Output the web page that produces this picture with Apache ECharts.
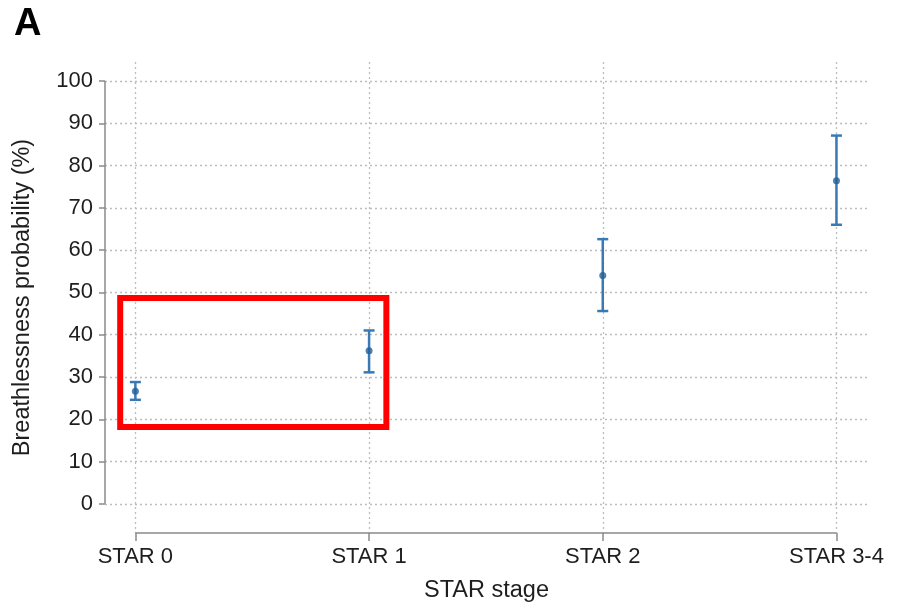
<!DOCTYPE html>
<html>
<head>
<meta charset="utf-8">
<script src="https://cdn.jsdelivr.net/npm/echarts@6/dist/echarts.min.js"></script>
<style>
  html, body { margin: 0; padding: 0; background: #ffffff; }
  #chart { width: 897px; height: 613px; }
</style>
</head>
<body>
<div id="chart"></div>
<script>
// STAR stages and modelled breathlessness probability (%) with 95% CI
const stages = ['STAR 0', 'STAR 1', 'STAR 2', 'STAR 3-4'];
const estimate = [26.6, 36.2, 54.0, 76.4];
const ciLower = [24.6, 31.1, 45.6, 66.0];
const ciUpper = [28.8, 41.0, 62.6, 87.1];
const yTicks = [0, 10, 20, 30, 40, 50, 60, 70, 80, 90, 100];
const xTicks = [0, 1, 2, 3];
// highlighted region, in data units: [stage, probability] corners
const highlightBox = [[-0.065, 48.7], [1.074, 18.2]];

const X_MIN = -0.13, X_MAX = 3.135;
const Y_MIN = -6.9, Y_MAX = 104.5;

const FONT = '"Liberation Sans", Arial, Helvetica, sans-serif';
const TEXT = '#1e1e1e';
const AXIS = '#8a8a8a';
const GRID = '#bdbdbd';
const BLUE = '#3a7ab4';
const DOT = '#23609a';

const chart = echarts.init(document.getElementById('chart'), null, { renderer: 'canvas' });

const ciData = stages.map((s, i) => [i, ciLower[i], ciUpper[i]]);
const pointData = stages.map((s, i) => [i, estimate[i]]);

chart.setOption({
  animation: false,
  backgroundColor: '#ffffff',
  textStyle: { fontFamily: FONT },
  grid: { left: 105, right: 29, top: 62, bottom: 80, containLabel: false },
  xAxis: {
    type: 'value',
    min: X_MIN,
    max: X_MAX,
    name: 'STAR stage',
    nameLocation: 'middle',
    nameGap: 46,
    nameTextStyle: { fontFamily: FONT, fontSize: 23.5, color: TEXT },
    axisLine: { show: false, onZero: false },
    axisTick: { show: true, customValues: xTicks, length: 8, lineStyle: { color: AXIS, width: 1.5 } },
    axisLabel: {
      customValues: xTicks,
      formatter: v => stages[Math.round(v)],
      fontFamily: FONT, fontSize: 22, color: TEXT, margin: 13
    },
    splitLine: { show: true, lineStyle: { color: GRID, width: 1.3, type: [2, 3] } }
  },
  yAxis: {
    type: 'value',
    min: Y_MIN,
    max: Y_MAX,
    name: 'Breathlessness probability (%)',
    nameLocation: 'middle',
    nameGap: 70,
    nameTextStyle: { fontFamily: FONT, fontSize: 23.5, color: TEXT },
    axisLine: { show: false, onZero: false },
    axisTick: { show: true, customValues: yTicks, length: 6, lineStyle: { color: AXIS, width: 1.5 } },
    axisLabel: {
      customValues: yTicks,
      fontFamily: FONT, fontSize: 22, color: TEXT, margin: 12
    },
    splitLine: { show: true, lineStyle: { color: GRID, width: 1.3, type: [2, 3] } }
  },
  series: [
    {
      // confidence interval whiskers with end caps
      type: 'custom',
      data: ciData,
      z: 3,
      renderItem: function (params, api) {
        const x = api.value(0);
        const lo = api.coord([x, api.value(1)]);
        const hi = api.coord([x, api.value(2)]);
        const half = 5.5;
        const style = { stroke: BLUE, lineWidth: 2.5 };
        return {
          type: 'group',
          children: [
            { type: 'line', shape: { x1: lo[0], y1: lo[1], x2: hi[0], y2: hi[1] }, style },
            { type: 'line', shape: { x1: hi[0] - half, y1: hi[1], x2: hi[0] + half, y2: hi[1] }, style },
            { type: 'line', shape: { x1: lo[0] - half, y1: lo[1], x2: lo[0] + half, y2: lo[1] }, style }
          ]
        };
      }
    },
    {
      // point estimates, plus the offset axis lines drawn in data units
      type: 'scatter',
      data: pointData,
      z: 4,
      symbol: 'circle',
      symbolSize: 7,
      itemStyle: { color: DOT },
      markLine: {
        silent: true,
        symbol: 'none',
        label: { show: false },
        lineStyle: { color: AXIS, width: 1.5, type: 'solid' },
        data: [
          [{ coord: [X_MIN, yTicks[0]] }, { coord: [X_MIN, yTicks[yTicks.length - 1]] }],
          [{ coord: [xTicks[0], Y_MIN] }, { coord: [xTicks[xTicks.length - 1], Y_MIN] }]
        ]
      }
    }
  ]
});

// Panel letter and the red highlight frame placed from data coordinates
const c1 = chart.convertToPixel({ gridIndex: 0 }, highlightBox[0]);
const c2 = chart.convertToPixel({ gridIndex: 0 }, highlightBox[1]);
chart.setOption({
  graphic: [
    {
      type: 'text',
      left: 14, top: 6,
      style: { text: 'A', font: 'bold 38px ' + FONT, fill: '#000000' }
    },
    {
      type: 'rect',
      z: 10,
      shape: {
        x: Math.min(c1[0], c2[0]), y: Math.min(c1[1], c2[1]),
        width: Math.abs(c2[0] - c1[0]), height: Math.abs(c2[1] - c1[1])
      },
      style: { fill: 'none', stroke: '#ff0000', lineWidth: 6 }
    }
  ]
});
</script>
</body>
</html>
